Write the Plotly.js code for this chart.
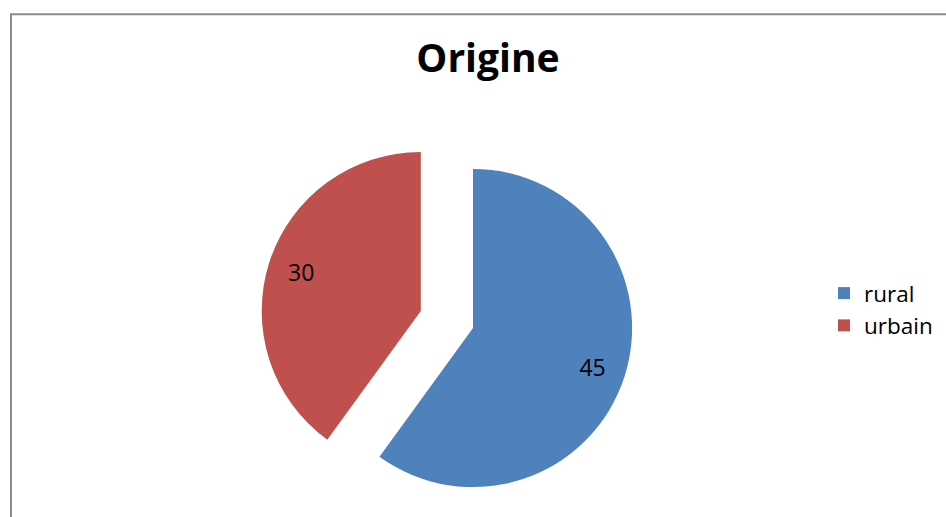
<!DOCTYPE html>
<html>
<head>
<meta charset="utf-8">
<script src="https://cdn.plot.ly/plotly-3.0.1.min.js"></script>
<style>
html, body { margin: 0; padding: 0; overflow: hidden; background: #fff; }
#chart { width: 946px; height: 560px; }
</style>
</head>
<body>
<div id="chart"></div>
<script>
const categories = ["rural", "urbain"];
const values = [45, 30];
const sliceColors = ["#4F81BD", "#C0504D"];
const pulls = [0, 0.345];
const chartTitle = "Origine";

const W = 946, H = 560;
const m = { l: 259, r: 259, t: 114, b: 18, pad: 0 };
const pw = W - m.l - m.r, ph = H - m.t - m.b;
function px2x(px) { return (px - m.l) / pw; }
function py2y(py) { return (m.t + ph - py) / ph; }

const labelFont = { family: "'Open Sans', sans-serif", size: 23, color: "#000000" };

const data = [
  {
    // visible pie (slices + legend)
    type: "pie",
    labels: categories,
    values: values,
    sort: false,
    direction: "clockwise",
    rotation: 0,
    pull: pulls,
    marker: { colors: sliceColors, line: { width: 0 } },
    textinfo: "none",
    showlegend: true
  },
  {
    // transparent ring used only to place the value labels further out
    type: "pie",
    labels: categories,
    values: values,
    sort: false,
    direction: "clockwise",
    rotation: 0,
    pull: pulls,
    hole: 0.58,
    marker: { colors: ["rgba(0,0,0,0)", "rgba(0,0,0,0)"], line: { width: 0 } },
    textinfo: "value",
    textposition: "inside",
    insidetextorientation: "horizontal",
    textfont: labelFont,
    showlegend: false
  }
];

const layout = {
  width: W,
  height: H,
  margin: m,
  paper_bgcolor: "#ffffff",
  plot_bgcolor: "#ffffff",
  title: {
    text: "<b>" + chartTitle + "</b>",
    font: { family: "'Open Sans', sans-serif", size: 39, color: "#000000" },
    xref: "container", yref: "container",
    x: 488 / W, y: 1 - 58 / H,
    xanchor: "center", yanchor: "middle"
  },
  legend: {
    font: { family: "'Open Sans', sans-serif", size: 22.5, color: "#000000" },
    xref: "container", yref: "container",
    x: 824 / W, y: 1 - 272 / H,
    xanchor: "left", yanchor: "top",
    bgcolor: "rgba(0,0,0,0)",
    borderwidth: 0
  },
  shapes: [{
    type: "rect", xref: "paper", yref: "paper",
    x0: px2x(11), x1: px2x(990), y0: py2y(600), y1: py2y(14.3),
    line: { color: "#8C8C8C", width: 2 },
    fillcolor: "rgba(0,0,0,0)",
    layer: "below"
  }]
};

Plotly.newPlot("chart", data, layout, { displayModeBar: false, staticPlot: true });
</script>
</body>
</html>
